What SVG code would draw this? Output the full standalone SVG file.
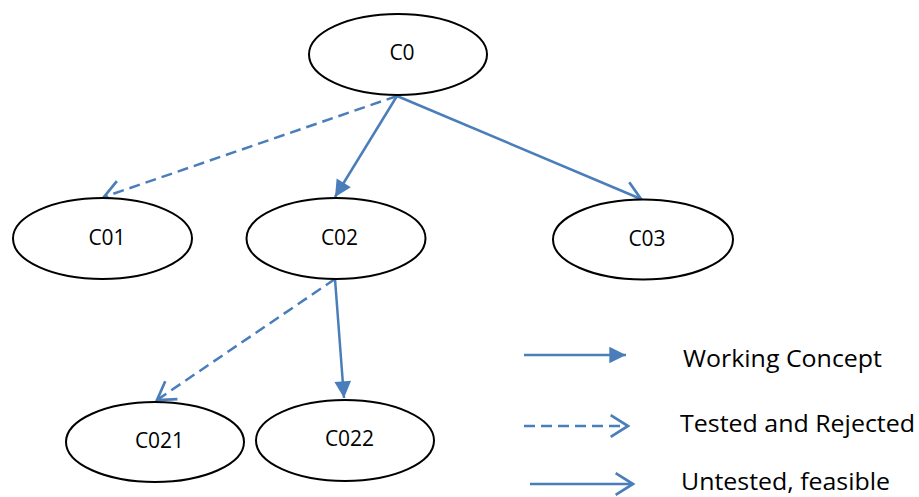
<svg xmlns="http://www.w3.org/2000/svg" width="919" height="497" viewBox="0 0 919 497">
<defs>
<style>
.node ellipse{fill:#fff;stroke:#000;stroke-width:2}
.node text{font-family:"Open Sans","Liberation Sans",sans-serif;font-size:21px;fill:#000;text-anchor:middle}
.edge{fill:none;stroke:#4a7ebb;stroke-width:2.5}
.dash{stroke-dasharray:11 6}
.legend text{font-family:"Open Sans","Liberation Sans",sans-serif;font-size:23px;fill:#000}
</style>
<marker id="filled" markerUnits="userSpaceOnUse" markerWidth="20" markerHeight="20" viewBox="-16 -9 18 18" refX="0" refY="0" orient="auto">
<path d="M-15,-7.5 L0,0 L-15,7.5 Z" fill="#4a7ebb"/>
</marker>
<marker id="open" markerUnits="userSpaceOnUse" markerWidth="24" markerHeight="26" viewBox="-18 -12 20 24" refX="0" refY="0" orient="auto">
<path d="M-16,-10 L0,0 L-16,10" fill="none" stroke="#4a7ebb" stroke-width="2.5"/>
</marker>
</defs>
<rect width="919" height="497" fill="#fff"/>
<g id="connectors">
<line class="edge dash" x1="397" y1="96" x2="104" y2="197" marker-end="url(#open)"/>
<line class="edge" x1="397" y1="96" x2="335" y2="197" marker-end="url(#filled)"/>
<line class="edge" x1="397" y1="96" x2="641" y2="199" marker-end="url(#open)"/>
<line class="edge dash" x1="335" y1="279" x2="157" y2="400" marker-end="url(#open)"/>
<line class="edge" x1="335" y1="279" x2="344" y2="398" marker-end="url(#filled)"/>
</g>
<g id="C0" class="node"><ellipse cx="398" cy="54.5" rx="89" ry="40.5"/><text x="402" y="60">C0</text></g>
<g id="C01" class="node"><ellipse cx="102.5" cy="238.5" rx="89.5" ry="40.5"/><text x="107" y="245">C01</text></g>
<g id="C02" class="node"><ellipse cx="336" cy="238.5" rx="89.5" ry="40.5"/><text x="339.5" y="245">C02</text></g>
<g id="C03" class="node"><ellipse cx="643" cy="239.5" rx="90" ry="40"/><text x="647" y="246">C03</text></g>
<g id="C021" class="node"><ellipse cx="155" cy="442" rx="89" ry="40"/><text x="159.5" y="448">C021</text></g>
<g id="C022" class="node"><ellipse cx="345" cy="440.5" rx="89" ry="40.5"/><text x="349.5" y="446">C022</text></g>
<g id="legend" class="legend">
<line class="edge" x1="524" y1="355" x2="626" y2="355" marker-end="url(#filled)"/>
<line class="edge dash" x1="524" y1="426" x2="628" y2="426" marker-end="url(#open)"/>
<line class="edge" x1="530" y1="484" x2="633" y2="484" marker-end="url(#open)"/>
<text x="683" y="367" textLength="199" lengthAdjust="spacingAndGlyphs">Working Concept</text>
<text x="680" y="432" textLength="235" lengthAdjust="spacingAndGlyphs">Tested and Rejected</text>
<text x="681" y="490" textLength="209" lengthAdjust="spacingAndGlyphs">Untested, feasible</text>
</g>
</svg>
